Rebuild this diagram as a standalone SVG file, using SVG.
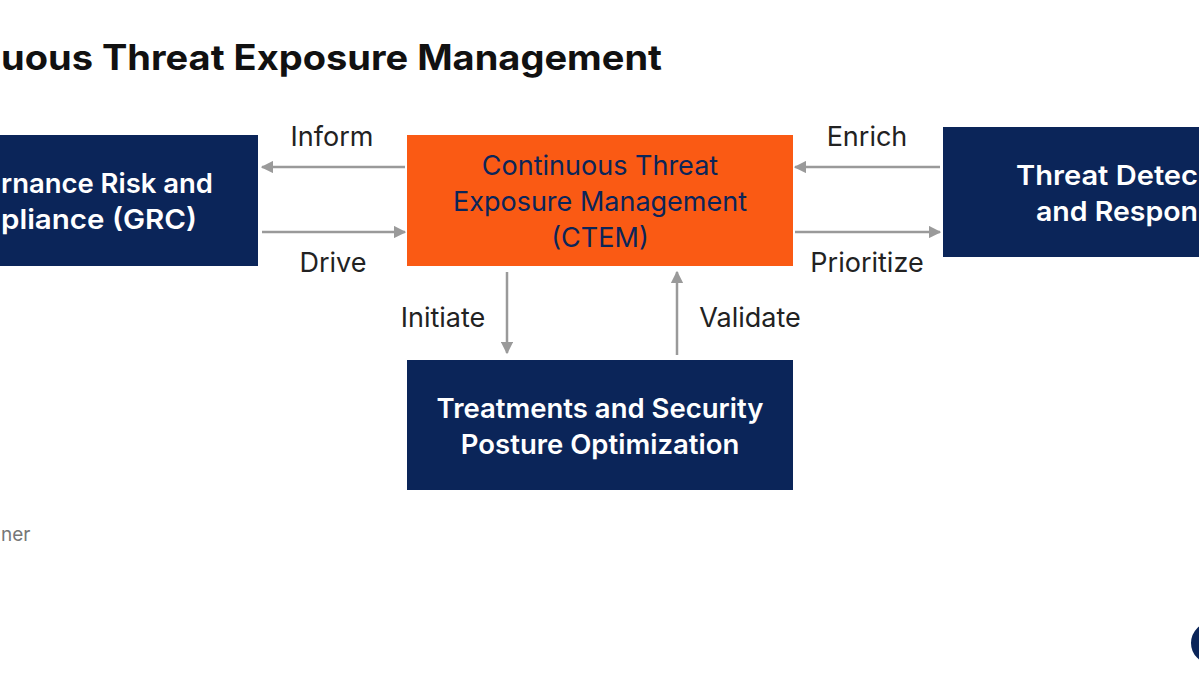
<svg xmlns="http://www.w3.org/2000/svg" width="1199" height="675" viewBox="0 0 1199 675">
<style>
.t{font-family:Inter,"Liberation Sans",sans-serif}
.nv{fill:#0b2559}
.wt{fill:#fff;font-size:27.5px;font-weight:600}
.lb{fill:#222;font-size:27px;text-anchor:middle}
.cn{stroke:#9a9a9a;stroke-width:2.5;fill:none;marker-end:url(#ah)}
</style>
<defs><marker id="ah" viewBox="0 0 10 10" refX="9" refY="5" markerWidth="5" markerHeight="5" orient="auto"><path d="M0,0L10,5L0,10z" fill="#9a9a9a"/></marker></defs>
<rect width="1199" height="675" fill="#fff"/>
<text class="t" x="1" y="70" font-size="35" font-weight="bold" fill="#111" textLength="661" lengthAdjust="spacingAndGlyphs">uous Threat Exposure Management</text>
<g id="grc"><rect class="nv" x="-10" y="135" width="268" height="131"/>
<text class="t wt" x="1" y="193" textLength="212" lengthAdjust="spacingAndGlyphs">rnance Risk and</text>
<text class="t wt" x="1" y="229" textLength="196" lengthAdjust="spacingAndGlyphs">pliance (GRC)</text></g>
<g id="ctem"><rect fill="#fa5a14" x="407" y="135" width="386" height="131"/>
<text class="t" fill="#0b2559" font-size="27" text-anchor="middle"><tspan x="600" y="175">Continuous Threat</tspan><tspan x="600" y="211">Exposure Management</tspan><tspan x="600" y="247">(CTEM)</tspan></text></g>
<g id="tdr"><rect class="nv" x="943" y="127" width="270" height="130"/>
<text class="t wt" x="1016" y="185" textLength="182" lengthAdjust="spacingAndGlyphs">Threat Detec</text>
<text class="t wt" x="1036" y="221" textLength="162" lengthAdjust="spacingAndGlyphs">and Respon</text></g>
<g id="tsp"><rect class="nv" x="407" y="360" width="386" height="130"/>
<text class="t wt" text-anchor="middle"><tspan x="600" y="418">Treatments and Security</tspan><tspan x="600" y="454">Posture Optimization</tspan></text></g>
<g id="connectors">
<path class="cn" d="M405,167H262"/><path class="cn" d="M262,232H405"/>
<path class="cn" d="M940,167H795"/><path class="cn" d="M795,232H940"/>
<path class="cn" d="M507,272V353"/><path class="cn" d="M677,355V272"/>
<text class="t lb" x="332" y="146">Inform</text><text class="t lb" x="333" y="272">Drive</text>
<text class="t lb" x="867" y="146">Enrich</text><text class="t lb" x="867" y="272">Prioritize</text>
<text class="t lb" x="443" y="327">Initiate</text><text class="t lb" x="750" y="327">Validate</text>
</g>
<text class="t" x="1" y="541" font-size="19" fill="#777">ner</text>
<circle cx="1212" cy="643" r="17" fill="none" stroke="#0b2559" stroke-width="8"/>
</svg>
